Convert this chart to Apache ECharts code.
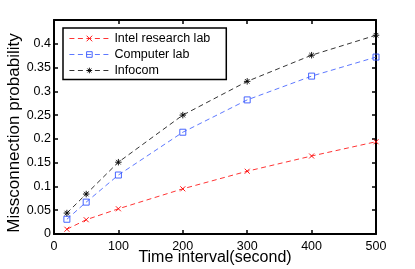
<!DOCTYPE html>
<html><head><meta charset="utf-8">
<script src="https://cdn.jsdelivr.net/npm/echarts@6/dist/echarts.min.js"></script>
<style>html,body{margin:0;padding:0;background:#fff}#c{width:415px;height:269px}</style>
</head><body><div id="c"></div>
<script>
var timeIntervals = [20, 50, 100, 200, 300, 400, 500];
var intelValues = [0.010, 0.030, 0.053, 0.095, 0.132, 0.164, 0.194];
var computerValues = [0.031, 0.067, 0.124, 0.214, 0.282, 0.332, 0.372];
var infocomValues = [0.044, 0.084, 0.151, 0.250, 0.321, 0.376, 0.418];
var seriesNames = ['Intel research lab', 'Computer lab', 'Infocom'];
var xTitle = 'Time interval(second)';
var yTitle = 'Missconnection probability';

function pairs(v){ return timeIntervals.map(function(x,i){return [x, v[i]];}); }
var FONT = 'Liberation Sans, Arial, Helvetica, sans-serif';
var xSym = 'path://M0,0L10,10M10,0L0,10';
var sqSym = 'path://M0,0L10,0L10,10L0,10Z';
var starSym = 'path://M5,0L5,10M0,5L10,5M1.5,1.5L8.5,8.5M8.5,1.5L1.5,8.5';

function mk(name, data, color, sym, size){
  return {
    name: name, type: 'line', data: pairs(data), symbol: sym, symbolSize: size,
    showAllSymbol: true, animation: false,
    lineStyle: {color: color, width: 0.8, type: [5, 3.5]},
    itemStyle: {color: 'rgba(0,0,0,0)', borderColor: color, borderWidth: 0.9},
    emphasis: {disabled: true}
  };
}
var chart = echarts.init(document.getElementById('c'));
var axisCommon = {
  axisLine: {show: true, onZero: false, lineStyle: {color: '#000', width: 2}},
  axisTick: {show: true, inside: true, length: 4, lineStyle: {color: '#000', width: 1.5}},
  splitLine: {show: false}
};
chart.setOption({
  animation: false,
  grid: {left: 54, right: 39, top: 20, bottom: 35, containLabel: false},
  legend: {
    show: true, left: 63, top: 28, orient: 'vertical',
    data: seriesNames,
    itemWidth: 40, itemHeight: 7, itemGap: 3,
    padding: [4, 16, 2.5, 6],
    borderColor: '#000', borderWidth: 1.5, backgroundColor: '#fff',
    textStyle: {fontFamily: FONT, fontSize: 12.5, color: '#000', lineHeight: 12},
    lineStyle: {width: 0.8, type: [5, 3.5]},
    itemStyle: {borderWidth: 0.9},
    selectedMode: false
  },
  xAxis: [
    Object.assign({type: 'value', min: 0, max: 500, interval: 100, position: 'bottom',
      axisLabel: {fontFamily: FONT, fontSize: 12.5, color: '#000', margin: 6}}, axisCommon),
    Object.assign({type: 'value', min: 0, max: 500, interval: 100, position: 'top',
      axisLabel: {show: false}}, axisCommon)
  ],
  yAxis: [
    Object.assign({type: 'value', min: 0, max: 0.45, interval: 0.05, position: 'left',
      axisLabel: {fontFamily: FONT, fontSize: 12.5, color: '#000', margin: 3,
        formatter: function(v){ if (v > 0.44) return ''; return String(Math.round(v*100)/100); }}}, axisCommon),
    Object.assign({type: 'value', min: 0, max: 0.45, interval: 0.05, position: 'right',
      axisLabel: {show: false}}, axisCommon)
  ],
  series: [
    mk(seriesNames[0], intelValues, '#ff0000', xSym, 5),
    mk(seriesNames[1], computerValues, '#3355ff', sqSym, 6),
    mk(seriesNames[2], infocomValues, '#000000', starSym, 6.5)
  ],
  graphic: [
    {type: 'text', x: 215, y: 258, style: {text: xTitle, font: '16px ' + FONT, fill: '#000', align: 'center', verticalAlign: 'middle'}},
    {type: 'text', x: 14, y: 133, rotation: Math.PI/2, style: {text: yTitle, font: '17px ' + FONT, fill: '#000', align: 'center', verticalAlign: 'middle'}}
  ]
});
</script></body></html>
